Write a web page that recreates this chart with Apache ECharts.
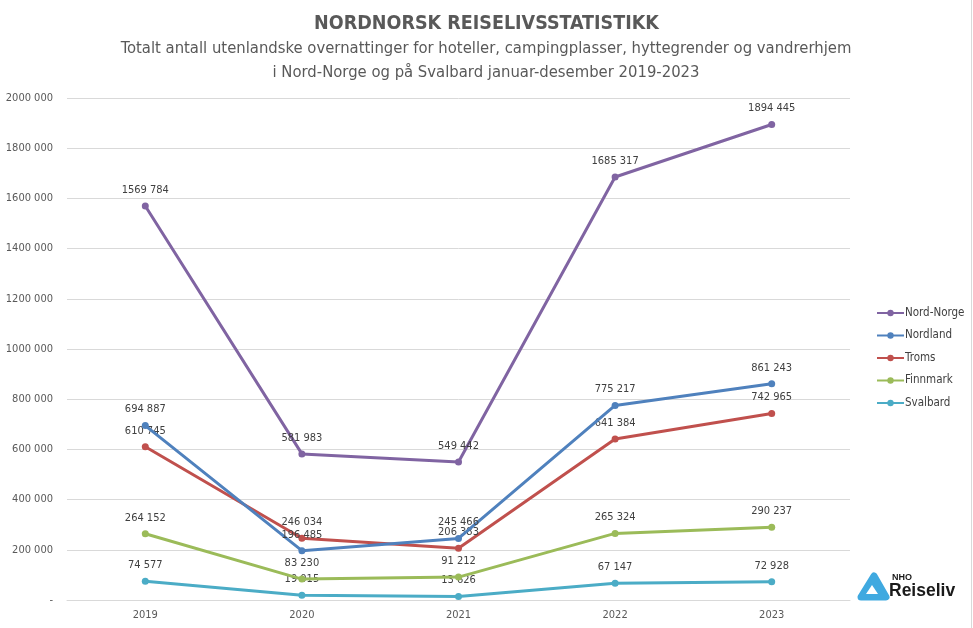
<!DOCTYPE html>
<html>
<head>
<meta charset="utf-8">
<script src="https://cdn.jsdelivr.net/npm/echarts@6/dist/echarts.min.js"></script>
<style>
html,body{margin:0;padding:0;background:#fff;}
#chart{width:973px;height:628px;}
</style>
</head>
<body>
<div id="chart"></div>
<script>
const categories = ['2019', '2020', '2021', '2022', '2023'];
const nordNorge = [1569784, 581983, 549442, 1685317, 1894445];
const nordland = [694887, 196485, 245466, 775217, 861243];
const troms = [610745, 246034, 206383, 641384, 742965];
const finnmark = [264152, 83230, 91212, 265324, 290237];
const svalbard = [74577, 19015, 13626, 67147, 72928];
const seriesNames = ['Nord-Norge', 'Nordland', 'Troms', 'Finnmark', 'Svalbard'];
const seriesData = [nordNorge, nordland, troms, finnmark, svalbard];
const colors = ['#8064A2', '#4F81BD', '#C0504D', '#9BBB59', '#4BACC6'];

const FONT = '"Liberation Sans Narrow", "DejaVu Sans Condensed", "Open Sans", sans-serif';

function fmt(v) {
  if (v === 0) return '-';
  const th = Math.floor(v / 1000);
  const rest = v % 1000;
  if (th === 0) return String(rest);
  return th + ' ' + String(rest).padStart(3, '0');
}

const chart = echarts.init(document.getElementById('chart'));
chart.setOption({
  backgroundColor: '#ffffff',
  animation: false,
  color: colors,
  title: {
    text: 'NORDNORSK REISELIVSSTATISTIKK',
    left: 'center', top: 9,
    textStyle: { fontFamily: FONT, fontSize: 19.5, fontWeight: 'bold', color: '#595959' }
  },
  grid: { left: 67, right: 123, top: 98, bottom: 28, containLabel: false },
  legend: {
    orient: 'vertical', left: 871, top: 302,
    itemWidth: 27, itemHeight: 8, itemGap: 10.5,
    data: seriesNames,
    textStyle: { fontFamily: FONT, fontSize: 11.5, color: '#404040', padding: [0, 0, 0, -4] }
  },
  xAxis: {
    type: 'category', data: categories, boundaryGap: true,
    axisLine: { lineStyle: { color: '#d9d9d9' } },
    axisTick: { show: false },
    axisLabel: { fontFamily: FONT, fontSize: 11, color: '#595959', margin: 10 }
  },
  yAxis: {
    type: 'value', min: 0, max: 2000000, interval: 200000,
    axisLine: { show: false }, axisTick: { show: false },
    splitLine: { lineStyle: { color: '#d9d9d9' } },
    axisLabel: { fontFamily: FONT, fontSize: 11, color: '#595959', margin: 14, formatter: fmt }
  },
  series: seriesNames.map((n, i) => ({
    name: n, type: 'line', data: seriesData[i],
    symbol: 'circle', symbolSize: 7,
    lineStyle: { width: 3, color: colors[i] },
    itemStyle: { color: colors[i] },
    label: {
      show: true, position: 'top', distance: 7,
      fontFamily: FONT, fontSize: 11, color: '#404040',
      formatter: p => fmt(p.value)
    },
    z: 10 - i
  })),
  graphic: [
    { type: 'text', x: 486, y: 37,
      style: { text: 'Totalt antall utenlandske overnattinger for hoteller, campingplasser, hyttegrender og vandrerhjem\ni Nord-Norge og på Svalbard januar-desember 2019-2023',
        fontFamily: FONT, fontSize: 16.5, fill: '#595959', align: 'center', lineHeight: 24 } },
    { type: 'line', shape: { x1: 971.5, y1: 0, x2: 971.5, y2: 628 }, style: { stroke: '#d9d9d9', lineWidth: 1 }, silent: true },
    { type: 'polygon', shape: { points: [[874, 576], [886, 597], [861, 597]] },
      style: { fill: '#3fa9e0', stroke: '#3fa9e0', lineWidth: 7, lineJoin: 'round' } },
    { type: 'polygon', shape: { points: [[872, 585], [878, 594], [866, 594]] },
      style: { fill: '#ffffff' } },
    { type: 'text', left: 892, top: 573, style: { text: 'NHO', fontFamily: '"Liberation Sans", sans-serif', fontSize: 9, fontWeight: 'bold', fill: '#1a1a1a' } },
    { type: 'text', left: 889, top: 582, style: { text: 'Reiseliv', fontFamily: '"Liberation Sans", sans-serif', fontSize: 17.5, fontWeight: 'bold', fill: '#1a1a1a' } }
  ]
});
</script>
</body>
</html>
